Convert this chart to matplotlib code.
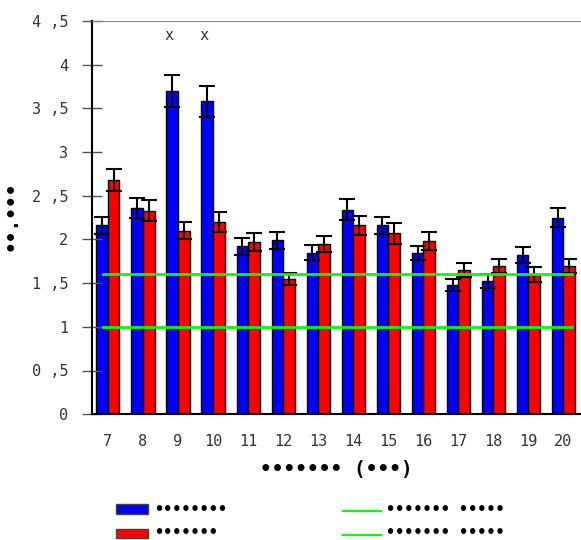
import matplotlib.pyplot as plt
import matplotlib.patches as mpatches
import matplotlib.lines as mlines
import numpy as np

cats = [7, 8, 9, 10, 11, 12, 13, 14, 15, 16, 17, 18, 19, 20]
blue = [2.16, 2.36, 3.70, 3.58, 1.92, 1.99, 1.85, 2.34, 2.16, 1.85, 1.48, 1.53, 1.82, 2.25]
blue_err = [0.10, 0.11, 0.18, 0.18, 0.10, 0.10, 0.09, 0.12, 0.10, 0.08, 0.07, 0.08, 0.09, 0.11]
red = [2.68, 2.33, 2.10, 2.20, 1.97, 1.55, 1.95, 2.16, 2.07, 1.98, 1.65, 1.70, 1.60, 1.70]
red_err = [0.13, 0.12, 0.10, 0.11, 0.10, 0.07, 0.09, 0.11, 0.12, 0.10, 0.08, 0.08, 0.09, 0.08]
ref_lines = [1.6, 1.0]
marked = [9, 10]
yticks = [0, 0.5, 1, 1.5, 2, 2.5, 3, 3.5, 4, 4.5]
ylabels = ['0', '0 ,5', '1', '1 ,5', '2', '2 ,5', '3', '3 ,5', '4', '4 ,5']

plt.rc('font', family='DejaVu Sans Mono', size=11)
fig = plt.figure(figsize=(5.81, 5.40), dpi=100)
ax = fig.add_axes([0.158, 0.233, 0.842, 0.728])

x = np.array(cats, dtype=float)
w = 0.33
ax.bar(x - w / 2, blue, w, color='#0000ff', edgecolor='black', linewidth=1)
ax.bar(x + w / 2, red, w, color='#ff0000', edgecolor='black', linewidth=1)
ax.errorbar(x - w / 2, blue, yerr=blue_err, fmt='none', ecolor='black', capsize=6, elinewidth=1.5, capthick=1.5)
ax.errorbar(x + w / 2, red, yerr=red_err, fmt='none', ecolor='black', capsize=6, elinewidth=1.5, capthick=1.5)
for v in ref_lines:
    ax.plot([cats[0] - 0.15, cats[-1] + 0.25], [v, v], color='#00ff00', lw=2)
for c in marked:
    ax.text(c - 0.25, 4.33, 'x', ha='center', va='center', fontsize=11, color='#333333')

ax.set_xlim(6.54, 20.5)
ax.set_ylim(0, 4.5)
ax.set_xticks(cats)
ax.set_xticklabels([str(c) for c in cats], color='#333333')
ax.set_yticks(yticks)
ax.set_yticklabels(ylabels, color='#333333')
ax.tick_params(axis='y', direction='inout', length=14, width=1, color='#555555', pad=10)
ax.tick_params(axis='x', length=0, pad=14)
ax.spines['right'].set_visible(False)
ax.spines['top'].set_color('#888888')
ax.spines['left'].set_linewidth(1.5)
ax.spines['bottom'].set_linewidth(1.5)

ax.set_xlabel('••••••• (•••)', fontsize=14, fontweight='bold', labelpad=8)
fig.text(0.02, 0.60, '••.•••', rotation=90, fontsize=14, fontweight='bold', ha='center', va='center')

# legend drawn by hand
fig.patches.append(mpatches.Rectangle((0.200, 0.049), 0.055, 0.017, facecolor='#0000ff', edgecolor='#444444', transform=fig.transFigure))
fig.patches.append(mpatches.Rectangle((0.200, 0.004), 0.055, 0.017, facecolor='#ff0000', edgecolor='#444444', transform=fig.transFigure))
fig.text(0.265, 0.057, '••••••••', fontsize=11, fontweight='bold', va='center')
fig.text(0.265, 0.014, '•••••••', fontsize=11, fontweight='bold', va='center')
for yy in [0.057, 0.014]:
    fig.lines.append(mlines.Line2D([0.59, 0.655], [yy - 0.004, yy - 0.004], color='#00ff00', lw=1.5, transform=fig.transFigure))
    fig.text(0.665, yy, '••••••• •••••', fontsize=11, fontweight='bold', va='center')

fig.savefig('out.png', dpi=100)
